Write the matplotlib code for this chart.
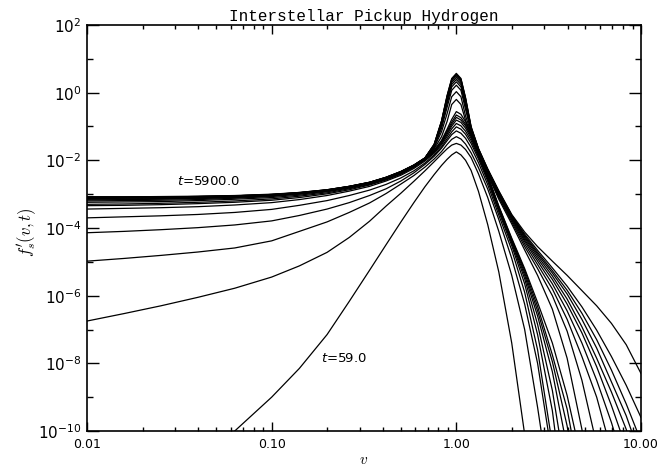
import matplotlib

matplotlib.use("Agg")
import matplotlib.pyplot as plt
import numpy as np
from matplotlib.ticker import FixedFormatter, FixedLocator, NullFormatter

plt.rcParams["mathtext.fontset"] = "dejavusans"
plt.rcParams["font.family"] = ["DejaVu Sans"]

# log10 of the speed grid shared by every spectrum
log_v = [-2.0, -1.8, -1.6, -1.4, -1.2, -1.0, -0.85, -0.7, -0.58, -0.47, -0.38, -0.30, -0.23, -0.17,
         -0.12, -0.08, -0.05, -0.025, 0.0,
         0.025, 0.05, 0.08, 0.12, 0.17, 0.23, 0.30, 0.37, 0.44, 0.52, 0.60, 0.68, 0.76, 0.84, 0.92, 1.0]

# log10 f on that grid, earliest output (t=59) first, last output (t=5900) at the end
logf_01 = [-14.5, -13.4, -12.3, -11.1, -10.0, -9.0, -8.15, -7.15, -6.17, -5.25, -4.49, -3.82, -3.25, -2.78,
           -2.42, -2.15, -1.97, -1.84, -1.75,
           -1.84, -2.00, -2.30, -2.92, -3.90, -5.30, -7.40, -10.1, -13.0, -16.5, -20.0, -23.5, -27.0, -30.5, -34.0, -37.5]
logf_02 = [-6.75, -6.53, -6.30, -6.05, -5.78, -5.45, -5.12, -4.72, -4.28, -3.80, -3.35, -2.97, -2.62, -2.31,
           -2.04, -1.82, -1.66, -1.55, -1.50,
           -1.55, -1.68, -1.92, -2.40, -3.10, -4.10, -5.40, -7.00, -9.30, -12.2, -15.2, -18.2, -21.2, -24.2, -27.2, -30.2]
logf_03 = [-4.98, -4.90, -4.81, -4.71, -4.59, -4.38, -4.10, -3.82, -3.54, -3.26, -2.98, -2.70, -2.45, -2.20,
           -1.96, -1.74, -1.53, -1.38, -1.30,
           -1.37, -1.52, -1.78, -2.22, -2.85, -3.75, -4.90, -6.25, -8.00, -10.8, -14.0, -17.5, -21.0, -24.5, -28.0, -31.5]
logf_04 = [-4.14, -4.10, -4.05, -3.99, -3.91, -3.79, -3.63, -3.44, -3.25, -3.04, -2.84, -2.61, -2.37, -2.12,
           -1.88, -1.64, -1.42, -1.24, -1.13,
           -1.20, -1.35, -1.62, -2.07, -2.72, -3.62, -4.65, -5.90, -7.60, -10.4, -13.5, -17.0, -20.5, -24.0, -27.5, -31.0]
logf_05 = [-3.70, -3.67, -3.64, -3.60, -3.54, -3.45, -3.33, -3.19, -3.04, -2.88, -2.71, -2.52, -2.31, -2.08,
           -1.84, -1.60, -1.36, -1.16, -1.01,
           -1.08, -1.23, -1.50, -1.96, -2.62, -3.52, -4.52, -5.65, -7.15, -9.40, -12.8, -16.0, -19.5, -23.0, -26.5, -30.0]
logf_06 = [-3.44, -3.42, -3.40, -3.37, -3.32, -3.25, -3.16, -3.04, -2.91, -2.77, -2.61, -2.44, -2.24, -2.02,
           -1.79, -1.54, -1.29, -1.07, -0.91,
           -0.98, -1.14, -1.42, -1.90, -2.56, -3.46, -4.45, -5.50, -6.85, -8.80, -11.5, -14.8, -18.3, -21.8, -25.3, -28.8]
logf_07 = [-3.34, -3.33, -3.31, -3.28, -3.24, -3.18, -3.10, -2.99, -2.87, -2.73, -2.58, -2.41, -2.21, -1.99,
           -1.76, -1.50, -1.23, -0.99, -0.81,
           -0.88, -1.05, -1.35, -1.85, -2.52, -3.42, -4.40, -5.40, -6.60, -8.25, -10.5, -13.5, -17.0, -20.5, -24.0, -27.5]
logf_08 = [-3.30, -3.29, -3.27, -3.24, -3.20, -3.14, -3.06, -2.96, -2.84, -2.71, -2.56, -2.39, -2.19, -1.97,
           -1.74, -1.47, -1.18, -0.93, -0.73,
           -0.81, -0.98, -1.30, -1.81, -2.49, -3.39, -4.36, -5.32, -6.45, -7.95, -9.85, -12.5, -15.7, -19.0, -22.5, -26.0]
logf_09 = [-3.24, -3.23, -3.22, -3.19, -3.15, -3.10, -3.03, -2.93, -2.82, -2.69, -2.55, -2.38, -2.18, -1.96,
           -1.72, -1.44, -1.13, -0.87, -0.66,
           -0.74, -0.93, -1.26, -1.78, -2.47, -3.37, -4.33, -5.25, -6.32, -7.75, -9.35, -11.7, -14.6, -17.8, -21.1, -24.5]
logf_10 = [-3.20, -3.19, -3.18, -3.16, -3.12, -3.07, -3.00, -2.91, -2.80, -2.68, -2.54, -2.37, -2.17, -1.95,
           -1.70, -1.41, -1.08, -0.79, -0.56,
           -0.64, -0.86, -1.22, -1.75, -2.45, -3.35, -4.30, -5.20, -6.20, -7.40, -8.95, -10.9, -13.7, -16.8, -20.0, -23.5]
logf_11 = [-3.17, -3.16, -3.15, -3.13, -3.10, -3.05, -2.99, -2.90, -2.79, -2.67, -2.53, -2.36, -2.17, -1.95,
           -1.66, -1.30, -0.85, -0.35, -0.20,
           -0.35, -0.82, -1.20, -1.74, -2.42, -3.15, -3.88, -4.65, -5.40, -6.40, -7.85, -9.95, -12.6, -15.5, -18.5, -21.5]
logf_12 = [-3.15, -3.14, -3.13, -3.12, -3.09, -3.04, -2.98, -2.90, -2.79, -2.67, -2.53, -2.36, -2.16, -1.95,
           -1.63, -1.15, -0.62, -0.12, 0.03,
           -0.12, -0.69, -1.18, -1.73, -2.40, -3.10, -3.82, -4.55, -5.20, -6.00, -7.05, -8.50, -10.4, -12.8, -15.5, -18.5]
logf_13 = [-3.13, -3.12, -3.11, -3.10, -3.08, -3.03, -2.98, -2.89, -2.78, -2.66, -2.52, -2.35, -2.16, -1.94,
           -1.60, -1.05, -0.43, 0.07, 0.22,
           0.07, -0.50, -1.15, -1.72, -2.38, -3.06, -3.77, -4.47, -5.08, -5.80, -6.70, -7.80, -9.00, -10.6, -12.6, -15.0]
logf_14 = [-3.12, -3.11, -3.10, -3.09, -3.07, -3.03, -2.97, -2.89, -2.78, -2.66, -2.52, -2.35, -2.16, -1.94,
           -1.58, -0.98, -0.33, 0.17, 0.32,
           0.17, -0.40, -1.12, -1.71, -2.36, -3.02, -3.73, -4.40, -4.98, -5.65, -6.45, -7.40, -8.50, -9.75, -11.2, -13.0]
logf_15 = [-3.11, -3.10, -3.09, -3.08, -3.06, -3.02, -2.97, -2.88, -2.78, -2.66, -2.51, -2.34, -2.15, -1.94,
           -1.57, -0.93, -0.26, 0.24, 0.39,
           0.24, -0.33, -1.10, -1.70, -2.34, -2.99, -3.70, -4.35, -4.90, -5.52, -6.25, -7.10, -8.10, -9.25, -10.5, -12.0]
logf_16 = [-3.10, -3.10, -3.09, -3.08, -3.06, -3.02, -2.96, -2.88, -2.78, -2.66, -2.51, -2.34, -2.15, -1.94,
           -1.56, -0.90, -0.20, 0.30, 0.45,
           0.30, -0.27, -1.08, -1.69, -2.32, -2.97, -3.67, -4.30, -4.83, -5.42, -6.10, -6.92, -7.85, -8.85, -9.95, -11.3]
logf_17 = [-3.09, -3.09, -3.08, -3.07, -3.05, -3.01, -2.96, -2.88, -2.77, -2.65, -2.51, -2.34, -2.15, -1.93,
           -1.55, -0.87, -0.15, 0.35, 0.50,
           0.35, -0.22, -1.06, -1.68, -2.30, -2.95, -3.65, -4.26, -4.77, -5.33, -5.95, -6.70, -7.55, -8.55, -9.55, -10.8]
logf_18 = [-3.09, -3.09, -3.08, -3.07, -3.05, -3.01, -2.96, -2.87, -2.77, -2.65, -2.50, -2.33, -2.14, -1.93,
           -1.54, -0.85, -0.12, 0.38, 0.53,
           0.38, -0.19, -1.04, -1.67, -2.28, -2.93, -3.63, -4.22, -4.72, -5.26, -5.84, -6.52, -7.30, -8.20, -9.20, -10.3]
logf_19 = [-3.08, -3.08, -3.08, -3.07, -3.05, -3.01, -2.95, -2.87, -2.77, -2.65, -2.50, -2.33, -2.14, -1.93,
           -1.53, -0.84, -0.10, 0.40, 0.55,
           0.40, -0.17, -1.02, -1.66, -2.27, -2.92, -3.62, -4.18, -4.66, -5.18, -5.72, -6.33, -7.02, -7.80, -8.65, -9.60]
logf_20 = [-3.08, -3.08, -3.07, -3.06, -3.04, -3.00, -2.95, -2.87, -2.77, -2.65, -2.50, -2.33, -2.14, -1.93,
           -1.52, -0.83, -0.08, 0.42, 0.57,
           0.42, -0.15, -1.00, -1.65, -2.25, -2.90, -3.60, -4.12, -4.55, -4.98, -5.40, -5.85, -6.30, -6.82, -7.45, -8.30]

spectra = [logf_01, logf_02, logf_03, logf_04, logf_05, logf_06, logf_07, logf_08, logf_09, logf_10,
           logf_11, logf_12, logf_13, logf_14, logf_15, logf_16, logf_17, logf_18, logf_19, logf_20]

x_ticks = [0.01, 0.1, 1.0, 10.0]
x_tick_labels = ["0.01", "0.10", "1.00", "10.00"]
y_labelled_exp = [2, 0, -2, -4, -6, -8, -10]
y_plain_exp = [1, -1, -3, -5, -7, -9]

fig = plt.figure(figsize=(6.61, 4.68), dpi=100)
ax = fig.add_axes([87 / 661, 1 - 431 / 468, 554 / 661, 406 / 468])

v = 10.0 ** np.array(log_v)
for logf in spectra:
    ax.plot(v, 10.0 ** np.array(logf), color="black", lw=0.9)

ax.set_xscale("log")
ax.set_yscale("log")
ax.set_xlim(0.01, 10.0)
ax.set_ylim(1e-10, 1e2)

ax.xaxis.set_major_locator(FixedLocator(x_ticks))
ax.xaxis.set_major_formatter(FixedFormatter(x_tick_labels))
ax.xaxis.set_minor_locator(FixedLocator([m * 10.0 ** d for d in range(-2, 1) for m in range(2, 10)]))
ax.xaxis.set_minor_formatter(NullFormatter())
ax.yaxis.set_major_locator(FixedLocator([10.0 ** e for e in y_labelled_exp]))
ax.yaxis.set_major_formatter(FixedFormatter([f"$10^{{{e}}}$" for e in y_labelled_exp]))
ax.yaxis.set_minor_locator(FixedLocator([10.0 ** e for e in y_plain_exp]))
ax.yaxis.set_minor_formatter(NullFormatter())

ax.tick_params(which="both", direction="in", top=True, right=True, width=1.0)
ax.tick_params(axis="x", which="major", length=6.5, pad=5, labelsize=9)
ax.tick_params(axis="x", which="minor", length=3)
ax.tick_params(axis="y", which="major", length=8.5, pad=4, labelsize=11)
ax.tick_params(axis="y", which="minor", length=4)
for spine in ax.spines.values():
    spine.set_linewidth(1.2)

ax.set_title("Interstellar Pickup Hydrogen", fontfamily="Liberation Mono", fontsize=11.5, pad=3)

xl = ax.set_xlabel("$v$", fontsize=11)
xl.set_math_fontfamily("cm")
ax.xaxis.set_label_coords(0.5, -0.052)
yl = ax.set_ylabel("$f_s'(v,t)$", fontsize=12)
yl.set_math_fontfamily("cm")
ax.yaxis.set_label_coords(-0.088, 0.49)

ax.text(0.0306, 10 ** -2.64, "$t$=5900.0", fontsize=9.5, va="center", ha="left")
ax.text(0.186, 10 ** -7.87, "$t$=59.0", fontsize=9.5, va="center", ha="left")

fig.savefig("out.png", dpi=100)
